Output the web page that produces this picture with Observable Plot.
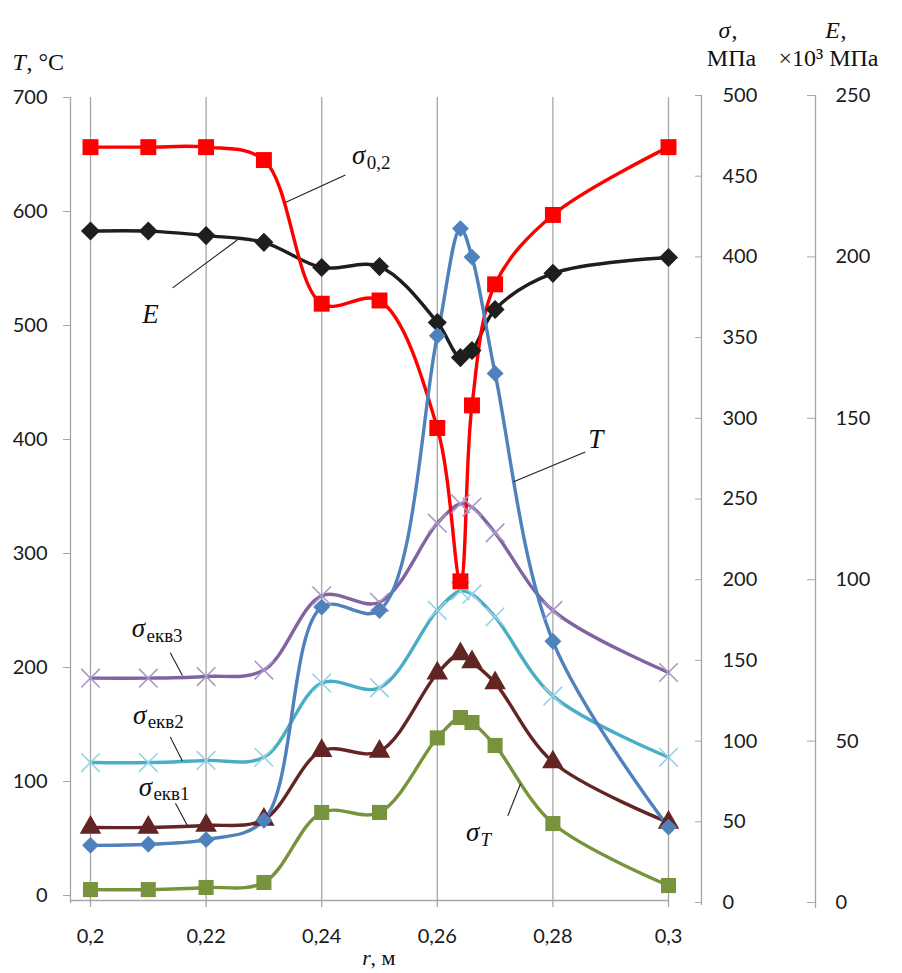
<!DOCTYPE html>
<html><head><meta charset="utf-8">
<script src="https://cdn.jsdelivr.net/npm/d3@7"></script>
<script src="https://cdn.jsdelivr.net/npm/@observablehq/plot@0.6"></script>
<style>html,body{margin:0;padding:0;background:#fff}svg{display:block}</style>
</head><body><div id="chart"></div>
<script>
// ---------- data ----------
const r = [0.2, 0.21, 0.22, 0.23, 0.24, 0.25, 0.26, 0.264, 0.266, 0.27, 0.28, 0.3];
const T_C = [44, 45, 49, 66, 253, 250, 491, 585, 560, 458, 223, 60];            // °C, left axis
const sigma02 = [468, 468, 468, 460, 371, 373, 294, 199, 308, 383, 426, 468];   // МПа
const E_GPa = [208, 208, 206.6, 204.5, 196.7, 197, 179.7, 168.8, 171, 183.7, 194.9, 199.8]; // ×10³ МПа
const sigmaEkv3 = [139, 139, 140, 144, 190, 186, 235, 247, 245, 229, 181, 142.5];
const sigmaEkv2 = [86.7, 86.7, 88, 90, 136, 133, 181, 193, 191, 177, 128, 90];
const sigmaEkv1 = [46.5, 46.5, 47.7, 51.4, 94, 93.6, 142, 154, 149, 136, 87, 49.6];
const sigmaT = [8, 8, 9.3, 12.4, 55.8, 55.8, 102, 114.6, 111.5, 97.3, 48.9, 10.5];

const xTicks = [0.2, 0.22, 0.24, 0.26, 0.28, 0.3];
const tTicks = [0, 100, 200, 300, 400, 500, 600, 700];
const sTicks = [0, 50, 100, 150, 200, 250, 300, 350, 400, 450, 500];
const eTicks = [0, 50, 100, 150, 200, 250];

// ---------- geometry ----------
const W = 902, H = 973;
const mLeft = 70, mRight = 234, mTop = 97, mBottom = 78;
const pxPerX = 5780;                       // pixels per unit of r
const xDomain = [0.2 - 20 / pxPerX, 0.3];
const pxPerT = 798 / 700;                  // left axis
const sPx = 807 / 500, ePx = 807 / 250;    // right axes (0 sits 7px lower)
const s2t = s => (s * sPx - 7) / pxPerT, t2s = t => (t * pxPerT + 7) / sPx;
const e2t = e => (e * ePx - 7) / pxPerT, t2e = t => (t * pxPerT + 7) / ePx;
const p2t = py => (H - mBottom - py) / pxPerT;   // pixel y -> left-axis units (for frame lines)

// ---------- series ----------
const series = [
  {key: "ekv3", vals: sigmaEkv3, conv: s2t, line: "#8064A2", mark: "#A898C8", symbol: "times", r: 8.5, hollow: true},
  {key: "ekv2", vals: sigmaEkv2, conv: s2t, line: "#4BACC6", mark: "#93D3E6", symbol: "times", r: 8.5, hollow: true},
  {key: "ekv1", vals: sigmaEkv1, conv: s2t, line: "#632523", mark: "#632523", symbol: "triangle", r: 8},
  {key: "sT", vals: sigmaT, conv: s2t, line: "#77933C", mark: "#77933C", symbol: "square", r: 8.5},
  {key: "E", vals: E_GPa, conv: e2t, line: "#1E1E1E", mark: "#1E1E1E", symbol: "diamond2", r: 8.6},
  {key: "s02", vals: sigma02, conv: s2t, line: "#FF0000", mark: "#FF0000", symbol: "square", r: 9},
  {key: "T", vals: T_C, conv: t => t, line: "#4F81BD", mark: "#4F81BD", symbol: "diamond2", r: 7.6}
];

const serif = "'Liberation Serif', 'DejaVu Serif', serif";

// annotation labels (position of the main glyph, in chart units)
const labels = [
  {main: "σ", sub: "0,2", subItalic: false, x: 0.2464, y: 649},
  {main: "E", sub: "", x: 0.2104, y: 510},
  {main: "T", sub: "", x: 0.2874, y: 400},
  {main: "σ", sub: "екв3", subItalic: false, x: 0.2083, y: 234},
  {main: "σ", sub: "екв2", subItalic: false, x: 0.2085, y: 158},
  {main: "σ", sub: "екв1", subItalic: false, x: 0.2095, y: 95},
  {main: "σ", sub: "T", subItalic: true, x: 0.2661, y: 55}
];
const leaders = [
  {x1: 0.2441, y1: 632, x2: 0.2337, y2: 608},
  {x1: 0.2142, y1: 533, x2: 0.2254, y2: 575},
  {x1: 0.2856, y1: 389, x2: 0.2732, y2: 363},
  {x1: 0.2138, y1: 213, x2: 0.2159, y2: 193},
  {x1: 0.2138, y1: 139, x2: 0.2159, y2: 118},
  {x1: 0.2147, y1: 81, x2: 0.2168, y2: 61},
  {x1: 0.2722, y1: 70, x2: 0.2744, y2: 98}
];

const marks = [];
const grid = "#A6A6A6";

// gridlines and axis lines
marks.push(Plot.ruleX(xTicks, {y1: p2t(907), y2: 700, stroke: grid, strokeWidth: 1.3}));
marks.push(Plot.ruleX([xDomain[0]], {y1: p2t(903), y2: 700, stroke: grid, strokeWidth: 1.3}));
marks.push(Plot.ruleY([p2t(900)], {x1: xDomain[0], x2: 0.3, stroke: grid, strokeWidth: 1.3}));
marks.push(Plot.ruleX([0.3], {dx: 33, y1: p2t(905), y2: p2t(95), stroke: grid, strokeWidth: 1.3}));
marks.push(Plot.ruleX([0.3], {dx: 147, y1: p2t(908), y2: p2t(95), stroke: grid, strokeWidth: 1.3}));

// axes
const tickFont = {fontSize: 20, fontFamily: "Lato, 'Open Sans', sans-serif"};
marks.push(Plot.axisX(xTicks, {anchor: "bottom", tickSize: 0, tickPadding: 33, label: null,
  tickFormat: d => d3.format(".2~f")(d).replace(".", ","), fill: "#1a1a1a", ...tickFont}));
marks.push(Plot.axisY(tTicks, {anchor: "left", tickSize: 7, tickPadding: 16, label: null,
  stroke: grid, fill: "#1a1a1a", ...tickFont}));
// sigma axis
marks.push(Plot.axisY(sTicks.map(s2t), {anchor: "left", dx: 631, tickSize: 6, label: null,
  tickFormat: () => "", stroke: grid}));
marks.push(Plot.axisY(sTicks.map(s2t), {anchor: "right", dx: 33, tickSize: 0, tickPadding: 21, label: null,
  tickFormat: d => Math.round(t2s(d)), fill: "#1a1a1a", ...tickFont}));
// E axis
marks.push(Plot.axisY(eTicks.map(e2t), {anchor: "left", dx: 745, tickSize: 8, label: null,
  tickFormat: () => "", stroke: grid}));
marks.push(Plot.axisY(eTicks.map(e2t), {anchor: "right", dx: 147, tickSize: 0, tickPadding: 20, label: null,
  tickFormat: d => Math.round(t2e(d)), fill: "#1a1a1a", ...tickFont}));

// series lines and markers
for (const s of series) {
  const rows = r.map((x, i) => ({x, y: s.conv(s.vals[i])}));
  marks.push(Plot.line(rows, {x: "x", y: "y", stroke: s.line, strokeWidth: 3.4, curve: "catmull-rom",
    strokeLinejoin: "round", strokeLinecap: "round"}));
  s._rows = rows;
}
for (const s of series) {
  marks.push(Plot.dot(s._rows, s.hollow
    ? {x: "x", y: "y", symbol: s.symbol, r: s.r, stroke: s.mark, strokeWidth: 1.6}
    : {x: "x", y: "y", symbol: s.symbol, r: s.r, fill: s.mark, stroke: "none"}));
}

// annotations
marks.push(Plot.link(leaders, {x1: "x1", y1: "y1", x2: "x2", y2: "y2", stroke: "#222", strokeWidth: 1.1}));
marks.push(Plot.text(labels, {x: "x", y: "y", text: "main", fontFamily: serif, fontStyle: "italic",
  fontSize: 27, fill: "#111", textAnchor: "middle"}));
marks.push(Plot.text(labels.filter(d => d.sub && !d.subItalic), {x: "x", y: "y", text: "sub", dx: 8, dy: 7,
  fontFamily: serif, fontSize: 19, fill: "#111", textAnchor: "start"}));
marks.push(Plot.text(labels.filter(d => d.sub && d.subItalic), {x: "x", y: "y", text: "sub", dx: 8, dy: 7,
  fontFamily: serif, fontStyle: "italic", fontSize: 19, fill: "#111", textAnchor: "start"}));

// axis titles
const title = (txt, anchor, dx, dy, italic, ta = "start", fs = 24) => Plot.text([txt], {frameAnchor: anchor, dx, dy,
  text: d => d, fontFamily: serif, fontStyle: italic ? "italic" : "normal", fontSize: fs, fill: "#111",
  textAnchor: ta, lineAnchor: "middle"});
marks.push(title("T", "top-left", -58, -35, true));
marks.push(title(", °C", "top-left", -44, -35, false));
marks.push(title("σ", "top-right", 56, -67, true, "middle"));
marks.push(title(",", "top-right", 63, -67, false));
marks.push(title("МПа", "top-right", 63, -39, false, "middle"));
marks.push(title("E", "top-right", 164, -67, true, "middle"));
marks.push(title(",", "top-right", 172, -67, false));
marks.push(title("×10³ МПа", "top-right", 160, -39, false, "middle"));
marks.push(title("r", "bottom-left", 296, 62, true, "middle", 22));
marks.push(title(", м", "bottom-left", 300, 62, false, "start", 22));

const chart = Plot.plot({
  width: W, height: H,
  marginLeft: mLeft, marginRight: mRight, marginTop: mTop, marginBottom: mBottom,
  x: {domain: xDomain, axis: null},
  y: {domain: [0, 700], axis: null},
  style: {background: "#fff", overflow: "visible"},
  marks
});
document.getElementById("chart").append(chart);
</script>
</body></html>
